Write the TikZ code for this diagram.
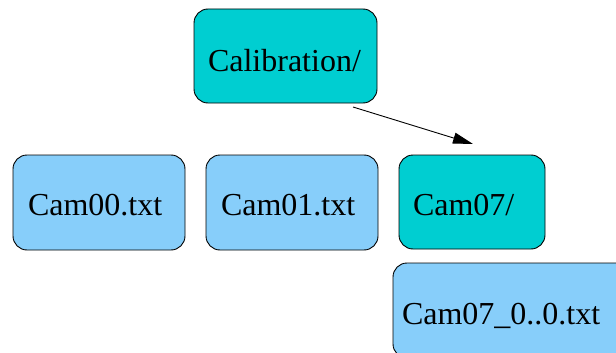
\documentclass[tikz,border=0pt]{standalone}
\usepackage{fontspec}
\setmainfont{Liberation Serif}
\usetikzlibrary{arrows.meta}
\definecolor{dirfill}{RGB}{0,206,209}
\definecolor{filefill}{RGB}{135,206,250}
\tikzset{
  box/.style={draw=black, line width=0.9pt, rounded corners=14pt, anchor=north west,
    font=\fontsize{32}{36}\selectfont, align=left, inner ysep=0pt, outer sep=0pt},
  dirbox/.style={box, fill=dirfill},
  filebox/.style={box, fill=filefill},
  arrow/.style={-{Triangle[length=20pt,width=11pt]}, line width=0.9pt, black}
}
\begin{document}
\begin{tikzpicture}[x=1pt,y=-1pt]
\useasboundingbox (0,0) rectangle (616,353);
\clip (0,0) rectangle (616,353);
\node[dirbox, inner xsep=14pt, text width=155pt, minimum height=94pt, text height=32pt, text depth=0pt] (cal) at (194,9) {Calibration/};
\node[filebox, inner xsep=15pt, text width=142pt, minimum height=95pt, text height=25pt, text depth=0pt] (c0) at (13,155) {Cam00.txt};
\node[filebox, inner xsep=15pt, text width=142pt, minimum height=95pt, text height=25pt, text depth=0pt] (c1) at (206,155) {Cam01.txt};
\node[dirbox, inner xsep=14pt, text width=118pt, minimum height=94pt, text height=27pt, text depth=0pt] (c7) at (399,155) {Cam07/};
\node[filebox, inner xsep=9pt, text width=230pt, minimum height=95pt, text height=27pt, text depth=0pt] (c70) at (393,263) {Cam07\_0..0.txt};
\draw[arrow] ([xshift=-24pt,yshift=-4pt]cal.south east) -- ([xshift=1pt,yshift=11pt]c7.north);
\end{tikzpicture}
\end{document}
